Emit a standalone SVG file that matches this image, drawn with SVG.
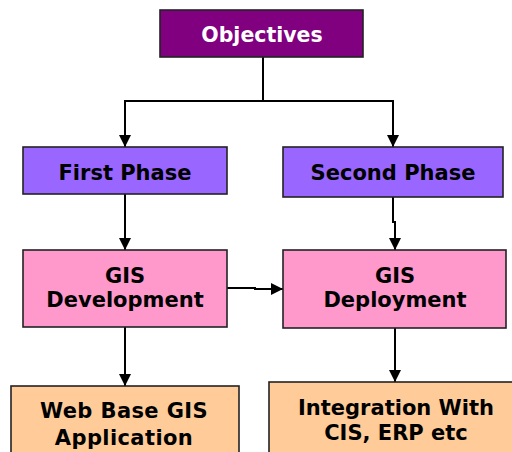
<svg xmlns="http://www.w3.org/2000/svg" width="512" height="452" viewBox="0 0 512 452">
<style>
.box{stroke:#222;stroke-width:1.6}
.t{font-family:"DejaVu Sans",Verdana,sans-serif;font-weight:bold;font-size:21px;text-anchor:middle;fill:#000}
.c{fill:none;stroke:#000;stroke-width:2}
</style>
<defs>
<marker id="ah" markerWidth="12" markerHeight="12" viewBox="0 0 12 12" refX="12" refY="6" orient="auto" markerUnits="userSpaceOnUse">
<path d="M0,0 L12,6 L0,12 Z" fill="#000"/>
</marker>
</defs>
<rect width="512" height="452" fill="#fff"/>
<g id="connectors">
<path class="c" d="M263,57 V101 M124,101 H394"/>
<path class="c" d="M125,101 V147" marker-end="url(#ah)"/>
<path class="c" d="M393,101 V147" marker-end="url(#ah)"/>
<path class="c" d="M125,194 V250" marker-end="url(#ah)"/>
<path class="c" d="M393,197 V222 H395 V250" marker-end="url(#ah)"/>
<path class="c" d="M227,288 H255 V289 H283" marker-end="url(#ah)"/>
<path class="c" d="M125,327 V386" marker-end="url(#ah)"/>
<path class="c" d="M395,328 V382" marker-end="url(#ah)"/>
</g>
<g id="objectives">
<rect class="box" x="160" y="10" width="203" height="47" fill="#800080"/>
<text class="t" x="262" y="42" style="fill:#fff;font-size:20.5px">Objectives</text>
</g>
<g id="first-phase">
<rect class="box" x="23" y="147" width="204" height="47" fill="#9966FF"/>
<text class="t" x="125" y="180">First Phase</text>
</g>
<g id="second-phase">
<rect class="box" x="283" y="147" width="220" height="50" fill="#9966FF"/>
<text class="t" x="393" y="180">Second Phase</text>
</g>
<g id="gis-development">
<rect class="box" x="23" y="250" width="204" height="77" fill="#FF99CC"/>
<text class="t" x="125" y="283">GIS</text>
<text class="t" x="125" y="307">Development</text>
</g>
<g id="gis-deployment">
<rect class="box" x="283" y="250" width="223" height="78" fill="#FF99CC"/>
<text class="t" x="395" y="283">GIS</text>
<text class="t" x="395" y="307">Deployment</text>
</g>
<g id="web-base">
<rect class="box" x="11" y="386" width="228" height="80" fill="#FFCC99"/>
<text class="t" x="124" y="418" style="letter-spacing:0.4px">Web Base GIS</text>
<text class="t" x="124" y="445" style="letter-spacing:0.4px">Application</text>
</g>
<g id="integration">
<rect class="box" x="269" y="382" width="260" height="84" fill="#FFCC99"/>
<text class="t" x="396" y="415">Integration With</text>
<text class="t" x="396" y="440">CIS, ERP etc</text>
</g>
</svg>
